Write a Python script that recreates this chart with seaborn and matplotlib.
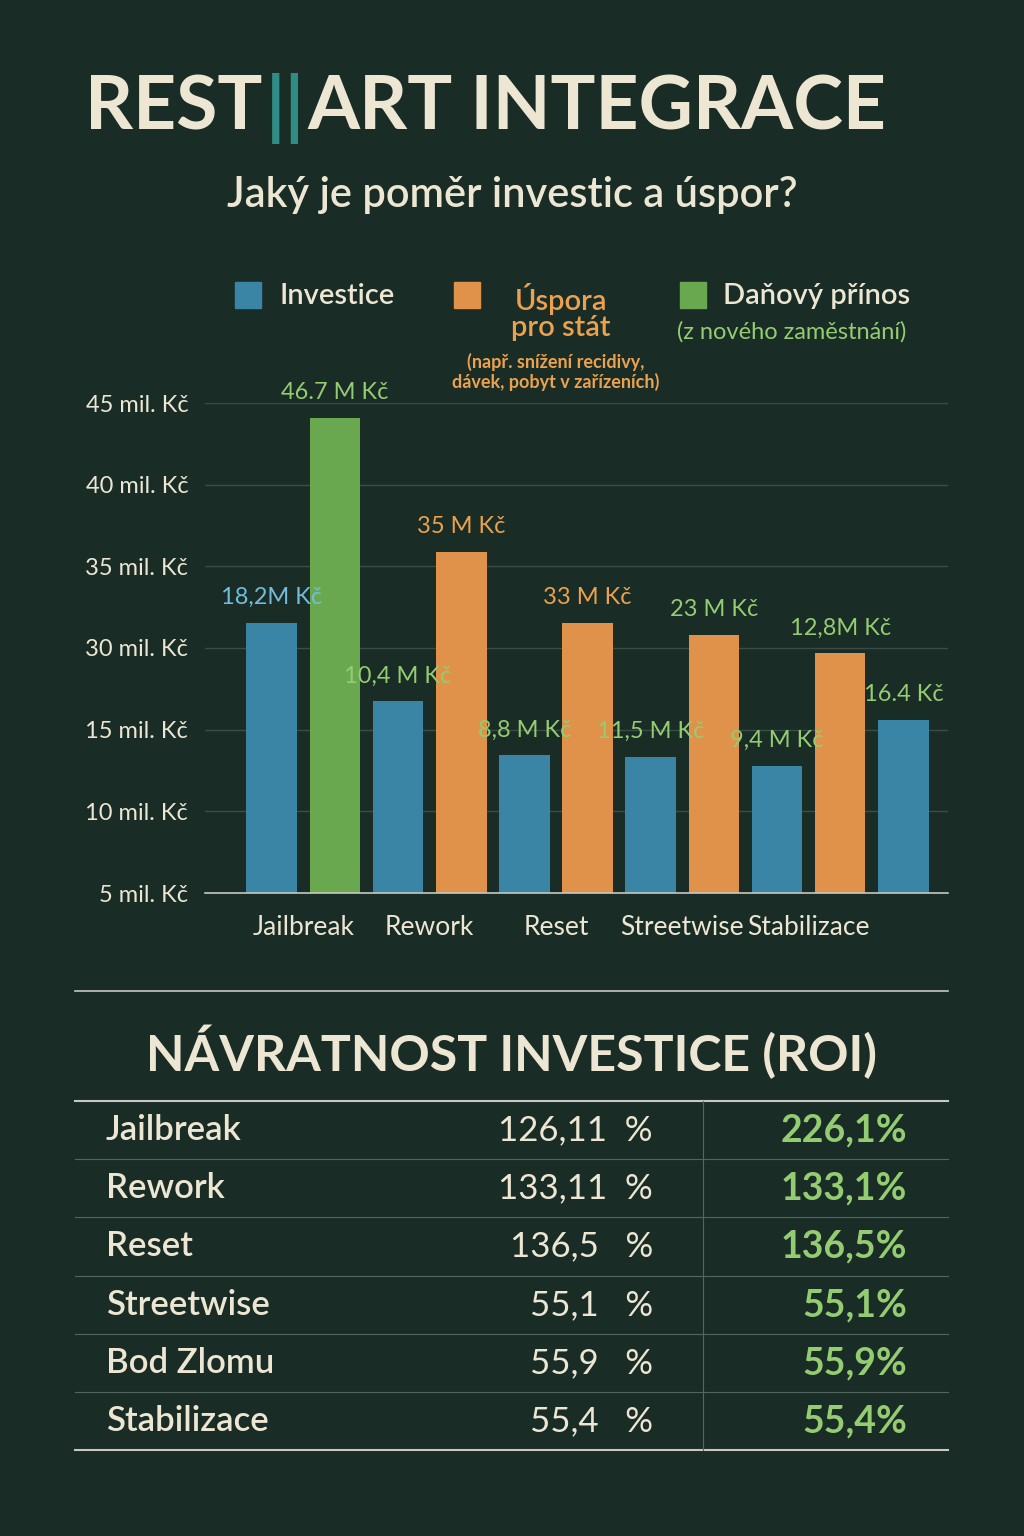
import matplotlib
matplotlib.use("Agg")
import matplotlib.pyplot as plt
import seaborn as sns
import pandas as pd

# ---------------- data ----------------
categories = ["Jailbreak", "Rework", "Reset", "Streetwise", "Stabilizace"]
bar_category = ["Jailbreak", "Jailbreak", "Rework", "Rework", "Reset", "Reset",
                "Streetwise", "Streetwise", "Stabilizace", "Stabilizace", "Stabilizace"]
bar_series = ["Investice", "Daňový přínos", "Investice", "Úspora", "Investice", "Úspora",
              "Investice", "Úspora", "Investice", "Úspora", "Investice"]
# heights in chart tick units (0 = "5 mil. Kč", 6 = "45 mil. Kč")
bar_height = [3.31, 5.82, 2.35, 4.18, 1.69, 3.31, 1.67, 3.16, 1.56, 2.94, 2.12]
bar_label = ["18,2M Kč", "46.7 M Kč", "10,4 M Kč", "35 M Kč", "8,8 M Kč", "33 M Kč",
             "11,5 M Kč", "23 M Kč", "9,4 M Kč", "12,8M Kč", "16.4 Kč"]
label_kind = ["blue", "green", "green", "orange", "green", "orange",
              "green", "green", "green", "green", "green"]
ytick_labels = ["5 mil. Kč", "10 mil. Kč", "15 mil. Kč", "30 mil. Kč",
                "35 mil. Kč", "40 mil. Kč", "45 mil. Kč"]

roi_names = ["Jailbreak", "Rework", "Reset", "Streetwise", "Bod Zlomu", "Stabilizace"]
roi_mid = ["126,11  %", "133,11  %", "136,5   %", "55,1   %", "55,9   %", "55,4   %"]
roi_right = ["226,1%", "133,1%", "136,5%", "55,1%", "55,9%", "55,4%"]

# ---------------- style ----------------
BG = "#192c25"
BEIGE = "#ece6d3"
BLUE = "#3a84a6"
ORANGE = "#e0914a"
GREEN = "#6aa84f"
LGREEN = "#94cc72"
LORANGE = "#eba24e"
LBLUE = "#74bcdc"
TEAL = "#2f8c86"
palette = {"Investice": BLUE, "Úspora": ORANGE, "Daňový přínos": GREEN}
lab_col = {"blue": LBLUE, "green": LGREEN, "orange": LORANGE}
FONT = "Lato"
plt.rcParams["font.family"] = FONT

fig = plt.figure(figsize=(10.24, 15.36), dpi=100, facecolor=BG)

def fy(py):
    return 1 - py / 1536
def fx(px):
    return px / 1024

# ---------------- title ----------------
renderer = fig.canvas.get_renderer()
tsize = 54
t1 = fig.text(fx(85), fy(108), "REST", fontsize=tsize, fontweight="bold", color=BEIGE, va="center", ha="left")
bb = t1.get_window_extent(renderer)
t2 = fig.text(bb.x1 / 1024 + 0.003, fy(108), "||", fontsize=tsize, fontweight="bold", color=TEAL, va="center", ha="left")
bb2 = t2.get_window_extent(renderer)
fig.text(bb2.x1 / 1024 + 0.003, fy(108), "ART INTEGRACE", fontsize=tsize, fontweight="bold", color=BEIGE, va="center", ha="left")

fig.text(0.5, fy(195), "Jaký je poměr investic a úspor?", fontsize=30, fontweight="semibold",
         color=BEIGE, ha="center", va="center")

# ---------------- legend ----------------
for px, col in [(248, BLUE), (467, ORANGE), (693, GREEN)]:
    fig.patches.append(plt.Rectangle((fx(px - 13), fy(308)), 26 / 1024, 26 / 1536,
                                     transform=fig.transFigure, color=col))
fig.text(fx(280), fy(296), "Investice", fontsize=21, fontweight="semibold", color=BEIGE, va="center")
fig.text(fx(561), fy(312), "Úspora\npro stát", fontsize=21, fontweight="semibold", color=LORANGE,
         va="center", ha="center", linespacing=1.0)
fig.text(fx(556), fy(372), "(např. snížení recidivy,\ndávek, pobyt v zařízeních)", fontsize=13,
         fontweight="bold", color=LORANGE, va="center", ha="center", linespacing=1.15)
fig.text(fx(723), fy(296), "Daňový přínos", fontsize=21, fontweight="semibold", color=BEIGE, va="center")
fig.text(fx(792), fy(332), "(z nového zaměstnání)", fontsize=17, color=LGREEN, va="center", ha="center")

# ---------------- bar chart ----------------
ax = fig.add_axes([0.2, 1 - 893 / 1536, 0.726, (893 - 403) / 1536])
ax.set_facecolor(BG)
slots = [f"s{i}" for i in range(len(bar_height))]
df = pd.DataFrame({"slot": slots, "value": bar_height, "series": bar_series, "cat": bar_category})
sns.barplot(data=df, x="slot", y="value", hue="series", order=slots, dodge=False,
            palette=palette, width=0.8, legend=False, ax=ax, saturation=1)
ax.set_xlim(-1.06, 10.71)
ax.set_ylim(0, 6)
ax.set_yticks(range(len(ytick_labels)))
ax.set_yticklabels(ytick_labels, color=BEIGE, fontsize=17)
ax.yaxis.grid(True, color="#3b4d46", linewidth=1)
ax.set_axisbelow(True)
for s in ["top", "right", "left"]:
    ax.spines[s].set_visible(False)
ax.spines["bottom"].set_color("#c8c8c0")
ax.spines["bottom"].set_linewidth(1.2)
ax.tick_params(axis="y", length=0, pad=12)
ax.tick_params(axis="x", length=0, pad=16)
centers = []
for c in categories:
    idx = [i for i, bc in enumerate(bar_category) if bc == c]
    centers.append(sum(idx[:2]) / len(idx[:2]))
ax.set_xticks(centers)
ax.set_xticklabels(categories, color=BEIGE, fontsize=19)
ax.set_xlabel("")
ax.set_ylabel("")
for i, (h, lab, k) in enumerate(zip(bar_height, bar_label, label_kind)):
    ax.annotate(lab, (i, h), xytext=(0, 18), textcoords="offset points", ha="center",
                va="center", color=lab_col[k], fontsize=17)

# ---------------- ROI section ----------------
line_col = "#c8c8c0"
fig.add_artist(plt.Line2D([fx(75), fx(948)], [fy(991), fy(991)], color=line_col, lw=1.2))
fig.text(0.5, fy(1052), "NÁVRATNOST INVESTICE (ROI)", fontsize=36, fontweight="bold",
         color=BEIGE, ha="center", va="center")
row_lines = [1101, 1159, 1217, 1276, 1334, 1392, 1450]
for j, yl in enumerate(row_lines):
    lw = 1.5 if j in (0, len(row_lines) - 1) else 0.8
    col = line_col if j in (0, len(row_lines) - 1) else "#55665f"
    fig.add_artist(plt.Line2D([fx(75), fx(948)], [fy(yl), fy(yl)], color=col, lw=lw))
fig.add_artist(plt.Line2D([fx(703), fx(703)], [fy(1101), fy(1450)], color="#55665f", lw=0.8))
for j, (n, m, r) in enumerate(zip(roi_names, roi_mid, roi_right)):
    yc = fy((row_lines[j] + row_lines[j + 1]) / 2)
    fig.text(fx(106), yc, n, fontsize=25, fontweight="semibold", color=BEIGE, va="center", ha="left")
    fig.text(fx(653), yc, m, fontsize=25, color=BEIGE, va="center", ha="right")
    fig.text(fx(907), yc, r, fontsize=27, fontweight="bold", color=LGREEN, va="center", ha="right")

fig.savefig("out.png", dpi=100, facecolor=BG)
